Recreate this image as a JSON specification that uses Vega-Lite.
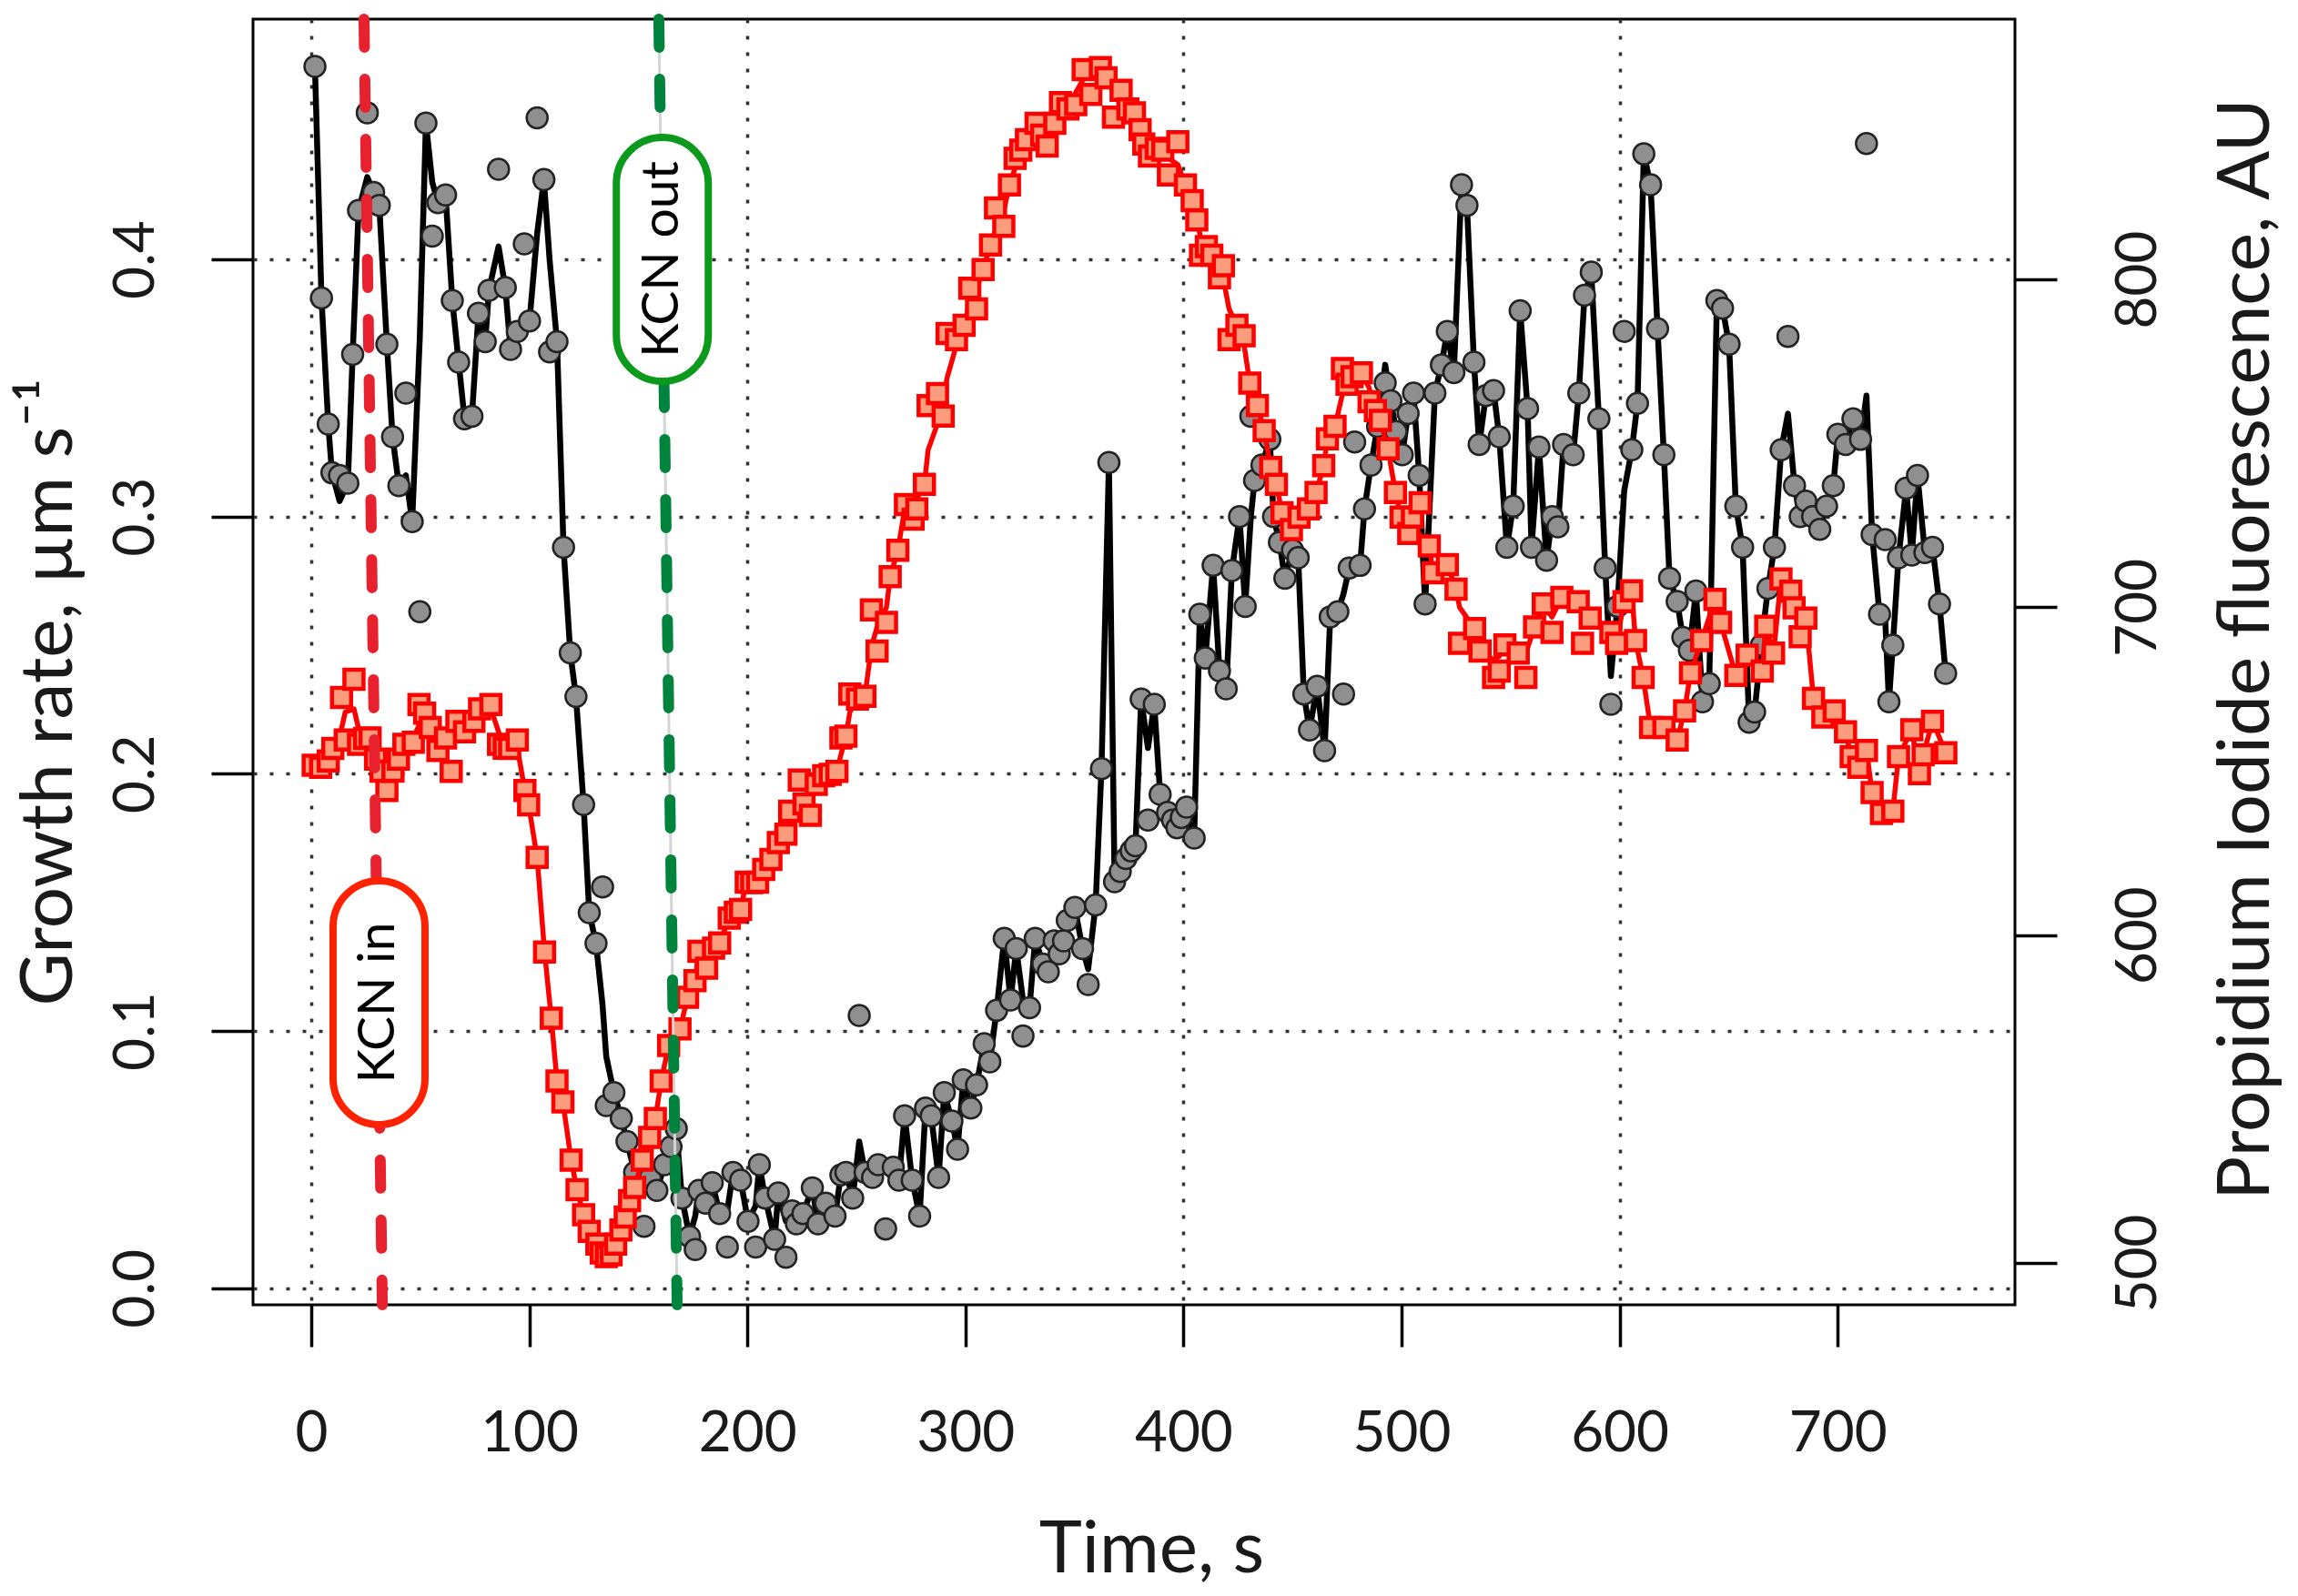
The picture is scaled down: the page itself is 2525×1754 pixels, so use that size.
{
  "$schema": "https://vega.github.io/schema/vega-lite/v6.json",
  "width": 1936,
  "height": 1413,
  "autosize": {"type": "none"},
  "padding": {"left": 278, "top": 21, "right": 311, "bottom": 320},
  "background": "#ffffff",
  "config": {
    "font": "Lato",
    "view": {"stroke": "#000000", "strokeWidth": 3},
    "axis": {
      "labelFont": "Lato", "labelFontSize": 62, "labelColor": "#1a1a1a",
      "labelFlush": false, "labelOverlap": false,
      "tickColor": "#000000", "tickWidth": 3.5, "tickSize": 46,
      "titleFont": "Lato", "titleFontSize": 80, "titleFontWeight": "normal", "titleColor": "#1a1a1a",
      "domain": false
    }
  },
  "datasets": {
    "growth": [
      {"t":1.7,"g":0.475,"gl":0.475},{"t":4.7,"g":0.385,"gl":0.385},{"t":7.8,"g":0.336,"gl":0.336},{"t":9.5,"g":0.317,"gl":0.317},
      {"t":13,"g":0.316,"gl":0.306},{"t":16.8,"g":0.313,"gl":0.313},{"t":19,"g":0.363,"gl":0.363},{"t":21.7,"g":0.419,"gl":0.419},
      {"t":25.7,"g":0.457,"gl":0.432},{"t":28.6,"g":0.426,"gl":0.426},{"t":31.2,"g":0.421,"gl":0.421},{"t":34.7,"g":0.367,"gl":0.367},
      {"t":37.3,"g":0.331,"gl":0.331},{"t":40.2,"g":0.312,"gl":0.312},{"t":43.4,"g":0.348,"gl":0.316},{"t":46.3,"g":0.298,"gl":0.298},
      {"t":49.8,"g":0.263,"gl":0.37},{"t":52.6,"g":0.453,"gl":0.453},{"t":55.5,"g":0.409,"gl":0.43},{"t":58.1,"g":0.422,"gl":0.422},
      {"t":61.6,"g":0.425,"gl":0.425},{"t":64.7,"g":0.384,"gl":0.384},{"t":67.6,"g":0.36,"gl":0.36},{"t":70.3,"g":0.338,"gl":0.338},
      {"t":73.7,"g":0.339,"gl":0.339},{"t":76.7,"g":0.379,"gl":0.379},{"t":79.8,"g":0.368,"gl":0.368},{"t":81.5,"g":0.388,"gl":0.388},
      {"t":85.9,"g":0.435,"gl":0.405},{"t":89,"g":0.389,"gl":0.389},{"t":91.4,"g":0.365,"gl":0.365},{"t":94.5,"g":0.372,"gl":0.372},
      {"t":97.7,"g":0.406,"gl":0.374},{"t":100.1,"g":0.376,"gl":0.376},{"t":103.6,"g":0.455,"gl":0.41},{"t":106.7,"g":0.431,"gl":0.431},
      {"t":109.3,"g":0.364,"gl":0.4},{"t":112.7,"g":0.368,"gl":0.368},{"t":115.7,"g":0.288,"gl":0.288},{"t":118.8,"g":0.247,"gl":0.247},
      {"t":121.4,"g":0.23,"gl":0.23},{"t":124.9,"g":0.188,"gl":0.188},{"t":127.5,"g":0.146,"gl":0.146},{"t":130.6,"g":0.134,"gl":0.134},
      {"t":133.6,"g":0.156,"gl":0.11},{"t":135.3,"g":0.071,"gl":0.09},{"t":138.8,"g":0.076,"gl":0.076},{"t":142.2,"g":0.066,"gl":0.066},
      {"t":144.8,"g":0.057,"gl":0.057},{"t":148.3,"g":0.045,"gl":0.045},{"t":152.6,"g":0.024,"gl":0.042},{"t":155.5,"g":0.043,"gl":0.043},
      {"t":158.5,"g":0.038,"gl":0.038},{"t":162,"g":0.048,"gl":0.048},{"t":165,"g":0.055,"gl":0.055},{"t":167.4,"g":0.062,"gl":0.062},
      {"t":170,"g":0.035,"gl":0.035},{"t":173.5,"g":0.02,"gl":0.02},{"t":176.1,"g":0.015,"gl":0.028},{"t":177.8,"g":0.038,"gl":0.038},
      {"t":180.8,"g":0.033,"gl":0.033},{"t":183.9,"g":0.041,"gl":0.041},{"t":187.3,"g":0.029,"gl":0.029},{"t":190.8,"g":0.016,"gl":0.03},
      {"t":193.4,"g":0.045,"gl":0.045},{"t":196.9,"g":0.042,"gl":0.042},{"t":200.3,"g":0.026,"gl":0.026},{"t":203.8,"g":0.016,"gl":0.032},
      {"t":205.5,"g":0.048,"gl":0.048},{"t":208.2,"g":0.035,"gl":0.035},{"t":212.5,"g":0.019,"gl":0.019},{"t":214.2,"g":0.037,"gl":0.037},
      {"t":217.7,"g":0.012,"gl":0.026},{"t":220.5,"g":0.03,"gl":0.03},{"t":222.5,"g":0.025,"gl":0.025},{"t":225.5,"g":0.029,"gl":0.029},
      {"t":229.8,"g":0.039,"gl":0.039},{"t":232.4,"g":0.025,"gl":0.025},{"t":235.9,"g":0.033,"gl":0.033},{"t":240.2,"g":0.028,"gl":0.028},
      {"t":242.9,"g":0.044,"gl":0.044},{"t":245.2,"g":0.045,"gl":0.045},{"t":248.3,"g":0.035,"gl":0.035},{"t":251.3,"g":0.106,"gl":0.057},
      {"t":254,"g":0.045,"gl":0.045},{"t":257.4,"g":0.043,"gl":0.043},{"t":260,"g":0.048,"gl":0.048},{"t":263.4,"g":0.023,"gl":0.045},
      {"t":266.9,"g":0.047,"gl":0.047},{"t":269.5,"g":0.042,"gl":0.042},{"t":272.1,"g":0.067,"gl":0.067},{"t":275.6,"g":0.042,"gl":0.042},
      {"t":279,"g":0.028,"gl":0.028},{"t":281.7,"g":0.07,"gl":0.07},{"t":284.3,"g":0.067,"gl":0.067},{"t":287.7,"g":0.043,"gl":0.043},
      {"t":290.3,"g":0.076,"gl":0.076},{"t":293.8,"g":0.065,"gl":0.065},{"t":296.4,"g":0.054,"gl":0.054},{"t":299,"g":0.081,"gl":0.081},
      {"t":302.5,"g":0.07,"gl":0.07},{"t":305.1,"g":0.079,"gl":0.079},{"t":308.6,"g":0.095,"gl":0.095},{"t":311.2,"g":0.088,"gl":0.088},
      {"t":314.3,"g":0.108,"gl":0.108},{"t":317.8,"g":0.136,"gl":0.136},{"t":320.7,"g":0.112,"gl":0.112},{"t":323.3,"g":0.132,"gl":0.132},
      {"t":326.4,"g":0.098,"gl":0.112},{"t":329.4,"g":0.109,"gl":0.109},{"t":332,"g":0.136,"gl":0.136},{"t":335.5,"g":0.126,"gl":0.126},
      {"t":338,"g":0.123,"gl":0.123},{"t":340.7,"g":0.135,"gl":0.135},{"t":343,"g":0.13,"gl":0.13},{"t":345,"g":0.135,"gl":0.135},
      {"t":346.7,"g":0.143,"gl":0.143},{"t":350.2,"g":0.148,"gl":0.148},{"t":353.7,"g":0.132,"gl":0.132},{"t":356.3,"g":0.118,"gl":0.124},
      {"t":359.7,"g":0.149,"gl":0.149},{"t":362.4,"g":0.202,"gl":0.202},{"t":365.8,"g":0.321,"gl":0.321},{"t":368.4,"g":0.158,"gl":0.158},
      {"t":371,"g":0.162,"gl":0.162},{"t":373.6,"g":0.167,"gl":0.167},{"t":376,"g":0.17,"gl":0.17},{"t":378,"g":0.172,"gl":0.172},
      {"t":380.6,"g":0.229,"gl":0.229},{"t":383.7,"g":0.182,"gl":0.21},{"t":386.6,"g":0.227,"gl":0.227},{"t":389.3,"g":0.192,"gl":0.192},
      {"t":392.7,"g":0.185,"gl":0.185},{"t":395,"g":0.182,"gl":0.182},{"t":397,"g":0.179,"gl":0.179},{"t":399,"g":0.183,"gl":0.183},
      {"t":401.4,"g":0.187,"gl":0.187},{"t":404.9,"g":0.175,"gl":0.175},{"t":407.5,"g":0.262,"gl":0.262},{"t":410,"g":0.245,"gl":0.245},
      {"t":413.6,"g":0.281,"gl":0.281},{"t":416.5,"g":0.24,"gl":0.24},{"t":419.6,"g":0.233,"gl":0.233},{"t":422.2,"g":0.279,"gl":0.279},
      {"t":425.7,"g":0.3,"gl":0.3},{"t":428.3,"g":0.265,"gl":0.265},{"t":430.9,"g":0.339,"gl":0.3},{"t":432.6,"g":0.314,"gl":0.314},
      {"t":436,"g":0.32,"gl":0.32},{"t":439.6,"g":0.33,"gl":0.33},{"t":441.3,"g":0.3,"gl":0.3},{"t":444,"g":0.29,"gl":0.29},
      {"t":446.5,"g":0.276,"gl":0.276},{"t":450,"g":0.287,"gl":0.287},{"t":452.6,"g":0.284,"gl":0.284},{"t":455.2,"g":0.231,"gl":0.231},
      {"t":457.8,"g":0.217,"gl":0.217},{"t":461.3,"g":0.234,"gl":0.234},{"t":464.7,"g":0.209,"gl":0.209},{"t":467.3,"g":0.261,"gl":0.261},
      {"t":470.8,"g":0.263,"gl":0.263},{"t":473.4,"g":0.231,"gl":0.27},{"t":476,"g":0.28,"gl":0.28},{"t":478.5,"g":0.329,"gl":0.28},
      {"t":481,"g":0.281,"gl":0.281},{"t":483,"g":0.303,"gl":0.303},{"t":486,"g":0.32,"gl":0.32},{"t":489,"g":0.335,"gl":0.335},
      {"t":492.5,"g":0.352,"gl":0.359},{"t":495.1,"g":0.345,"gl":0.345},{"t":497.5,"g":0.333,"gl":0.333},{"t":500.3,"g":0.324,"gl":0.324},
      {"t":503,"g":0.34,"gl":0.34},{"t":505.5,"g":0.348,"gl":0.348},{"t":508.1,"g":0.316,"gl":0.316},{"t":510.8,"g":0.266,"gl":0.266},
      {"t":515.3,"g":0.348,"gl":0.348},{"t":518.3,"g":0.359,"gl":0.359},{"t":521,"g":0.372,"gl":0.372},{"t":524,"g":0.356,"gl":0.356},
      {"t":527.5,"g":0.429,"gl":0.429},{"t":530,"g":0.421,"gl":0.421},{"t":533.2,"g":0.36,"gl":0.36},{"t":535.6,"g":0.328,"gl":0.328},
      {"t":538.7,"g":0.347,"gl":0.347},{"t":542.2,"g":0.349,"gl":0.349},{"t":544.8,"g":0.331,"gl":0.331},{"t":548.3,"g":0.288,"gl":0.288},
      {"t":551.2,"g":0.304,"gl":0.304},{"t":554.4,"g":0.38,"gl":0.38},{"t":557.8,"g":0.342,"gl":0.342},{"t":559.6,"g":0.288,"gl":0.288},
      {"t":563,"g":0.327,"gl":0.327},{"t":566.5,"g":0.283,"gl":0.283},{"t":569.1,"g":0.3,"gl":0.3},{"t":571.7,"g":0.296,"gl":0.296},
      {"t":574.3,"g":0.328,"gl":0.328},{"t":578.7,"g":0.324,"gl":0.324},{"t":581.3,"g":0.348,"gl":0.348},{"t":583.9,"g":0.386,"gl":0.386},
      {"t":587,"g":0.395,"gl":0.395},{"t":590.5,"g":0.338,"gl":0.338},{"t":593.4,"g":0.28,"gl":0.28},{"t":596,"g":0.227,"gl":0.238},
      {"t":599,"g":0.265,"gl":0.265},{"t":602.1,"g":0.372,"gl":0.31},{"t":605.6,"g":0.326,"gl":0.326},{"t":608.2,"g":0.344,"gl":0.344},
      {"t":611.1,"g":0.441,"gl":0.441},{"t":614.2,"g":0.429,"gl":0.429},{"t":617.4,"g":0.373,"gl":0.373},{"t":620.3,"g":0.324,"gl":0.324},
      {"t":622.9,"g":0.276,"gl":0.276},{"t":626.4,"g":0.267,"gl":0.267},{"t":629,"g":0.253,"gl":0.253},{"t":632,"g":0.248,"gl":0.248},
      {"t":635,"g":0.271,"gl":0.271},{"t":638,"g":0.228,"gl":0.228},{"t":641.1,"g":0.235,"gl":0.235},{"t":644.6,"g":0.384,"gl":0.384},
      {"t":647.2,"g":0.381,"gl":0.381},{"t":650.2,"g":0.367,"gl":0.367},{"t":653.3,"g":0.304,"gl":0.304},{"t":656.4,"g":0.288,"gl":0.288},
      {"t":659.4,"g":0.22,"gl":0.22},{"t":661.9,"g":0.224,"gl":0.224},{"t":665,"g":0.25,"gl":0.25},{"t":668,"g":0.272,"gl":0.272},
      {"t":671,"g":0.288,"gl":0.288},{"t":674.1,"g":0.326,"gl":0.326},{"t":677.2,"g":0.37,"gl":0.34},{"t":680.2,"g":0.312,"gl":0.312},
      {"t":682.8,"g":0.3,"gl":0.3},{"t":685.4,"g":0.306,"gl":0.306},{"t":688.5,"g":0.3,"gl":0.3},{"t":691.8,"g":0.295,"gl":0.295},
      {"t":694.9,"g":0.304,"gl":0.304},{"t":698,"g":0.312,"gl":0.312},{"t":700.1,"g":0.332,"gl":0.332},{"t":703.6,"g":0.328,"gl":0.328},
      {"t":707,"g":0.338,"gl":0.338},{"t":710.5,"g":0.33,"gl":0.33},{"t":713.2,"g":0.445,"gl":0.347},{"t":715.8,"g":0.293,"gl":0.293},
      {"t":719.2,"g":0.262,"gl":0.262},{"t":721.8,"g":0.291,"gl":0.26},{"t":723.5,"g":0.228,"gl":0.228},{"t":725.3,"g":0.25,"gl":0.25},
      {"t":727.9,"g":0.284,"gl":0.284},{"t":731.4,"g":0.311,"gl":0.311},{"t":734,"g":0.285,"gl":0.285},{"t":736.6,"g":0.316,"gl":0.316},
      {"t":740,"g":0.286,"gl":0.286},{"t":743.5,"g":0.288,"gl":0.288},{"t":746.7,"g":0.266,"gl":0.266},{"t":749.5,"g":0.239,"gl":0.239}
    ],
    "pi": [
      {"t":0.9,"f":651.8,"fl":651.8},{"t":4.3,"f":651.2,"fl":651.2},{"t":7.8,"f":653.1,"fl":653.1},{"t":9.9,"f":656.9,"fl":656.9},
      {"t":13.9,"f":672.5,"fl":663},{"t":15.6,"f":659.5,"fl":668},{"t":19.6,"f":678,"fl":669},{"t":21.7,"f":658.2,"fl":663},
      {"t":24.5,"f":660,"fl":660},{"t":27,"f":660.1,"fl":656},{"t":29.5,"f":653.7,"fl":653.7},{"t":32,"f":650,"fl":651},
      {"t":34.7,"f":644.1,"fl":649},{"t":37.5,"f":650,"fl":650},{"t":40,"f":653.7,"fl":653.7},{"t":42.5,"f":658.2,"fl":658.2},
      {"t":46.8,"f":658.8,"fl":660},{"t":49.4,"f":670.3,"fl":664},{"t":52,"f":667.7,"fl":666},{"t":54.6,"f":663.3,"fl":663.3},
      {"t":58.1,"f":656.3,"fl":660},{"t":61.6,"f":660.1,"fl":662},{"t":64.2,"f":649.9,"fl":662},{"t":66.8,"f":665.2,"fl":665.2},
      {"t":70.3,"f":662,"fl":664},{"t":74.6,"f":665.2,"fl":666},{"t":77.2,"f":669,"fl":668},{"t":82.4,"f":670.3,"fl":669},
      {"t":85.9,"f":658.2,"fl":662},{"t":88.5,"f":657,"fl":657},{"t":91,"f":656.9,"fl":656.9},{"t":94.5,"f":659.5,"fl":657},
      {"t":98,"f":644.1,"fl":644.1},{"t":99.7,"f":639.7,"fl":639.7},{"t":103.6,"f":623.7,"fl":623.7},{"t":107,"f":594.8,"fl":594.8},
      {"t":110.1,"f":574.6,"fl":574.6},{"t":112.7,"f":555.5,"fl":555.5},{"t":115.4,"f":549.1,"fl":549.1},{"t":119.2,"f":531.3,"fl":531.3},
      {"t":121.9,"f":522.3,"fl":522.3},{"t":124.9,"f":514.7,"fl":514.7},{"t":127.5,"f":509.6,"fl":509.6},{"t":131,"f":505.7,"fl":505.7},
      {"t":133,"f":503,"fl":503},{"t":135.3,"f":501.9,"fl":501.9},{"t":137.5,"f":502.5,"fl":502.5},{"t":139.6,"f":505.7,"fl":505.7},
      {"t":142,"f":510,"fl":510},{"t":144,"f":514,"fl":514},{"t":146,"f":519,"fl":519},{"t":148.3,"f":523,"fl":523},
      {"t":151.8,"f":531.3,"fl":531.3},{"t":155.2,"f":538.3,"fl":538.3},{"t":157.8,"f":544,"fl":544},{"t":160.5,"f":555.5,"fl":555.5},
      {"t":163.9,"f":566.3,"fl":566.3},{"t":169.1,"f":571.4,"fl":571.4},{"t":172.6,"f":581,"fl":581},{"t":176,"f":586.1,"fl":586.1},
      {"t":177.8,"f":595,"fl":595},{"t":181.3,"f":589.9,"fl":594},{"t":184.5,"f":596,"fl":596},{"t":187.3,"f":597.6,"fl":597.6},
      {"t":191.7,"f":605.2,"fl":605.2},{"t":194.5,"f":607,"fl":607},{"t":196.9,"f":607.8,"fl":607.8},{"t":199.5,"f":616.1,"fl":616.1},
      {"t":202,"f":616,"fl":616},{"t":204.7,"f":616.1,"fl":616.1},{"t":207.5,"f":620,"fl":620},{"t":210.8,"f":623.1,"fl":623.1},
      {"t":214.2,"f":628.2,"fl":628.2},{"t":217.7,"f":630.8,"fl":630.8},{"t":219.4,"f":637.8,"fl":637.8},{"t":223.8,"f":647.3,"fl":641},
      {"t":226,"f":640,"fl":640},{"t":228.9,"f":636.5,"fl":642},{"t":231.6,"f":646,"fl":646},{"t":235,"f":648.6,"fl":648.6},
      {"t":238,"f":649,"fl":649},{"t":241.1,"f":649.9,"fl":649.9},{"t":242.9,"f":660.1,"fl":655},{"t":245.2,"f":660.7,"fl":660.7},
      {"t":247,"f":673.5,"fl":668},{"t":250.5,"f":672,"fl":672},{"t":253.9,"f":672.8,"fl":672.8},{"t":256.9,"f":699.2,"fl":688},
      {"t":259.5,"f":686.6,"fl":694},{"t":263.8,"f":695.4,"fl":700},{"t":265.5,"f":709.3,"fl":709.3},{"t":269,"f":717.4,"fl":717.4},
      {"t":272.5,"f":731.3,"fl":731.3},{"t":276,"f":726.9,"fl":730},{"t":277.7,"f":730,"fl":733},{"t":281.2,"f":737.5,"fl":737.5},
      {"t":282.9,"f":761.5,"fl":748},{"t":287.2,"f":765.2,"fl":756},{"t":289.8,"f":758.3,"fl":763},{"t":291.6,"f":783.5,"fl":770},
      {"t":295.9,"f":781.6,"fl":780},{"t":299.4,"f":786,"fl":786},{"t":302,"f":797.3,"fl":793},{"t":305.1,"f":791,"fl":797},
      {"t":308.1,"f":803,"fl":803},{"t":311.5,"f":810.5,"fl":810.5},{"t":313.8,"f":821.8,"fl":815},{"t":317.6,"f":816.2,"fl":821},
      {"t":320.2,"f":828.8,"fl":828.8},{"t":322.8,"f":836.9,"fl":834},{"t":325.4,"f":839.4,"fl":839.4},{"t":328,"f":842.6,"fl":842.6},
      {"t":332.4,"f":847.6,"fl":847.6},{"t":335,"f":844,"fl":844},{"t":337.5,"f":840.7,"fl":846},{"t":341,"f":847.6,"fl":849},
      {"t":343.6,"f":853.9,"fl":853.9},{"t":347,"f":852,"fl":852},{"t":350.6,"f":853.3,"fl":857},{"t":354,"f":864,"fl":861},
      {"t":357.5,"f":856.4,"fl":862},{"t":361.9,"f":864.6,"fl":864.6},{"t":364.5,"f":861.5,"fl":861.5},{"t":367.9,"f":849.5,"fl":857},
      {"t":371.4,"f":857.7,"fl":854},{"t":374.5,"f":852,"fl":852},{"t":377.5,"f":850.8,"fl":850.8},{"t":380.1,"f":845.7,"fl":845.7},
      {"t":381.8,"f":841.3,"fl":841.3},{"t":384.4,"f":837.6,"fl":840},{"t":387.5,"f":840,"fl":840},{"t":390.5,"f":839.4,"fl":839.4},
      {"t":393.1,"f":831.9,"fl":837},{"t":397.4,"f":842,"fl":835},{"t":400.9,"f":828.8,"fl":828.8},{"t":404,"f":824,"fl":824},
      {"t":406.1,"f":818.1,"fl":818.1},{"t":407.8,"f":807.4,"fl":813},{"t":410.5,"f":810,"fl":810},{"t":413,"f":807.4,"fl":807.4},
      {"t":416.5,"f":800.5,"fl":800.5},{"t":418.3,"f":804.2,"fl":800},{"t":420.9,"f":781.6,"fl":791},{"t":424.5,"f":786,"fl":786},
      {"t":427.8,"f":782.8,"fl":780},{"t":430.4,"f":768.4,"fl":768.4},{"t":433.9,"f":761.5,"fl":761.5},{"t":437,"f":753.9,"fl":753.9},
      {"t":440,"f":742.6,"fl":742.6},{"t":442.6,"f":737.5,"fl":737.5},{"t":445.2,"f":728.8,"fl":728.8},{"t":449.5,"f":723.7,"fl":723.7},
      {"t":453,"f":727.5,"fl":727.5},{"t":457.3,"f":730,"fl":730},{"t":460.8,"f":735,"fl":735},{"t":464.3,"f":743.2,"fl":743.2},
      {"t":466,"f":751.4,"fl":751.4},{"t":469.5,"f":755.2,"fl":755.2},{"t":472.9,"f":772.8,"fl":765},{"t":475,"f":768,"fl":768},
      {"t":477.3,"f":770.3,"fl":770.3},{"t":481.6,"f":771.5,"fl":771.5},{"t":485.1,"f":762.7,"fl":767},{"t":488,"f":760,"fl":760},
      {"t":490.3,"f":757,"fl":757},{"t":493.8,"f":748.3,"fl":748.3},{"t":497.2,"f":735,"fl":735},{"t":499.8,"f":727.5,"fl":727.5},
      {"t":503.3,"f":722.5,"fl":726},{"t":505,"f":727.5,"fl":725},{"t":508.5,"f":731.9,"fl":722},{"t":512.7,"f":718.7,"fl":718.7},
      {"t":514.4,"f":710.5,"fl":710.5},{"t":521,"f":713,"fl":713},{"t":525,"f":705.5,"fl":705.5},{"t":526.6,"f":689,"fl":700},
      {"t":533.5,"f":693.5,"fl":693.5},{"t":536,"f":686.6,"fl":686.6},{"t":542.2,"f":678.6,"fl":684},{"t":544.8,"f":680.5,"fl":685},
      {"t":547.4,"f":688.5,"fl":688.5},{"t":553.5,"f":686,"fl":686},{"t":557,"f":678.6,"fl":686},{"t":561,"f":694,"fl":694},
      {"t":565,"f":701,"fl":701},{"t":569,"f":692.3,"fl":697},{"t":573.5,"f":703,"fl":703},{"t":581,"f":701.7,"fl":701.7},
      {"t":583,"f":689,"fl":698},{"t":586.5,"f":696.7,"fl":696.7},{"t":596,"f":692.3,"fl":692.3},{"t":598.6,"f":689,"fl":689},
      {"t":602,"f":701.7,"fl":701.7},{"t":605.5,"f":705,"fl":705},{"t":607.3,"f":689.8,"fl":689.8},{"t":610.8,"f":678.6,"fl":678.6},
      {"t":614.2,"f":663.3,"fl":663.3},{"t":620.3,"f":663.3,"fl":663.3},{"t":626.4,"f":659.5,"fl":659.5},{"t":629.8,"f":668.4,"fl":668.4},
      {"t":632.5,"f":680,"fl":680},{"t":637.6,"f":689.8,"fl":689.8},{"t":643.7,"f":702.4,"fl":702.4},{"t":646.3,"f":695.4,"fl":695.4},
      {"t":653.3,"f":679.2,"fl":679.2},{"t":658.5,"f":685.4,"fl":685.4},{"t":665.4,"f":680.5,"fl":680.5},{"t":667,"f":694.2,"fl":694.2},
      {"t":670.6,"f":686,"fl":686},{"t":674,"f":708.6,"fl":708.6},{"t":678.5,"f":704.9,"fl":704.9},{"t":680,"f":699.8,"fl":699.8},
      {"t":682.8,"f":691,"fl":691},{"t":685.4,"f":696.7,"fl":696.7},{"t":688.9,"f":672.2,"fl":672.2},{"t":693.2,"f":666.5,"fl":666.5},
      {"t":698.4,"f":668.4,"fl":668.4},{"t":703.6,"f":662,"fl":662},{"t":706.2,"f":654.4,"fl":654.4},{"t":709.7,"f":651.2,"fl":651.2},
      {"t":713.2,"f":656.3,"fl":656.3},{"t":715.8,"f":643.5,"fl":643.5},{"t":720.1,"f":637.1,"fl":637.1},{"t":725.3,"f":637.8,"fl":637.8},
      {"t":727.9,"f":654.4,"fl":654.4},{"t":734,"f":662.6,"fl":662.6},{"t":737.5,"f":649.2,"fl":649.2},{"t":739.2,"f":655,"fl":655},
      {"t":743.5,"f":665.2,"fl":665.2},{"t":749.6,"f":655.6,"fl":655.6}
    ],
    "events": [
      {"label": "KCN in", "t": 31.1, "g": 0.111, "t0": 24.2, "t1": 32.6},
      {"label": "KCN out", "t": 161.0, "g": 0.4, "t0": 159.4, "t1": 167.8}
    ]
  },
  "layer": [
    {
      "data": {"name": "growth"},
      "layer": [
        {
          "mark": {"type": "line", "color": "#000000", "strokeWidth": 6.5, "strokeJoin": "round"},
          "encoding": {
            "x": {
              "field": "t", "type": "quantitative",
              "scale": {"domain": [-26.7, 781.3], "nice": false, "zero": false},
              "axis": {
                "orient": "bottom", "values": [0, 100, 200, 300, 400, 500, 600, 700], "grid": false,
                "labelAngle": 0, "labelBaseline": "top", "labelPadding": 65,
                "title": "Time, s", "titleX": 987, "titleY": 293, "titleAlign": "center", "titleBaseline": "alphabetic"
              }
            },
            "y": {
              "field": "gl", "type": "quantitative",
              "scale": {"domain": [-0.0065, 0.4934], "nice": false, "zero": false},
              "axis": {
                "orient": "left", "values": [0, 0.1, 0.2, 0.3, 0.4], "format": ".1f",
                "grid": true, "gridDash": [4, 14], "gridColor": "#333333", "gridWidth": 3.5,
                "labelAngle": 270, "labelAlign": "center", "labelBaseline": "alphabetic", "labelPadding": 64,
                "title": "Growth rate, µm s⁻¹", "titleAngle": 270, "titleX": -200, "titleY": 739,
                "titleAlign": "center", "titleBaseline": "alphabetic"
              }
            }
          }
        },
        {
          "mark": {"type": "point", "shape": "circle", "filled": true, "fill": "#8f8f8f", "stroke": "#222222", "strokeWidth": 2.5, "size": 530, "opacity": 1},
          "encoding": {
            "x": {"field": "t", "type": "quantitative", "scale": {"domain": [-26.7, 781.3], "nice": false, "zero": false}},
            "y": {"field": "g", "type": "quantitative", "scale": {"domain": [-0.0065, 0.4934], "nice": false, "zero": false}}
          }
        }
      ]
    },
    {
      "data": {"name": "pi"},
      "layer": [
        {
          "mark": {"type": "line", "color": "#ff0000", "strokeWidth": 5.5, "strokeJoin": "round"},
          "encoding": {
            "x": {
              "field": "t", "type": "quantitative",
              "scale": {"domain": [-26.7, 781.3], "nice": false, "zero": false},
              "axis": {
                "orient": "bottom", "values": [0, 200, 400, 600], "grid": true,
                "gridDash": [4, 14], "gridColor": "#333333", "gridWidth": 3.5,
                "ticks": false, "labels": false, "title": null
              }
            },
            "y": {
              "field": "fl", "type": "quantitative",
              "scale": {"domain": [487.2, 879.4], "nice": false, "zero": false},
              "axis": {
                "orient": "right", "values": [500, 600, 700, 800], "grid": false,
                "labelAngle": 270, "labelAlign": "center", "labelBaseline": "top", "labelPadding": 59,
                "title": "Propidium Iodide fluorescence, AU", "titleAngle": 270, "titleX": 278, "titleY": 692,
                "titleAlign": "center", "titleBaseline": "alphabetic"
              }
            }
          }
        },
        {
          "mark": {"type": "point", "shape": "square", "filled": true, "fill": "#fb9c7c", "stroke": "#ff0000", "strokeWidth": 4.5, "size": 441, "opacity": 1},
          "encoding": {
            "x": {"field": "t", "type": "quantitative", "scale": {"domain": [-26.7, 781.3], "nice": false, "zero": false}},
            "y": {"field": "f", "type": "quantitative", "scale": {"domain": [487.2, 879.4], "nice": false, "zero": false}}
          }
        }
      ]
    },
    {
      "data": {"name": "events"},
      "encoding": {
        "x": {"field": "t0", "type": "quantitative", "scale": {"domain": [-26.7, 781.3], "nice": false, "zero": false}, "axis": null}
      },
      "layer": [
        {
          "transform": [{"filter": {"field": "label", "equal": "KCN out"}}],
          "mark": {"type": "rule", "color": "#d4d4d4", "strokeWidth": 3},
          "encoding": {
            "x2": {"field": "t1"},
            "y": {"datum": 0.4934, "type": "quantitative", "scale": {"domain": [-0.0065, 0.4934], "nice": false, "zero": false}, "axis": null},
            "y2": {"datum": -0.0065}
          }
        },
        {
          "mark": {"type": "rule", "strokeWidth": 12, "strokeDash": [31, 35], "strokeCap": "round"},
          "encoding": {
            "x2": {"field": "t1"},
            "y": {"datum": 0.4934, "type": "quantitative", "scale": {"domain": [-0.0065, 0.4934], "nice": false, "zero": false}, "axis": null},
            "y2": {"datum": -0.0065},
            "color": {"field": "label", "type": "nominal", "scale": {"domain": ["KCN in", "KCN out"], "range": ["#e8212f", "#00843d"]}, "legend": null}
          }
        },
        {
          "mark": {
            "type": "point",
            "shape": "M -0.377 -0.623 A 0.377 0.377 0 0 1 0.377 -0.623 L 0.377 0.623 A 0.377 0.377 0 0 1 -0.377 0.623 Z",
            "filled": true, "fill": "#ffffff", "strokeWidth": 8, "size": 71824, "opacity": 1
          },
          "encoding": {
            "x": {"field": "t", "type": "quantitative", "scale": {"domain": [-26.7, 781.3], "nice": false, "zero": false}, "axis": null},
            "y": {"field": "g", "type": "quantitative", "scale": {"domain": [-0.0065, 0.4934], "nice": false, "zero": false}, "axis": null},
            "stroke": {"field": "label", "type": "nominal", "scale": {"domain": ["KCN in", "KCN out"], "range": ["#ff2200", "#0c9a1c"]}, "legend": null}
          }
        },
        {
          "mark": {"type": "text", "angle": 270, "fontSize": 57, "font": "Lato", "align": "center", "baseline": "middle", "color": "#000000"},
          "encoding": {
            "x": {"field": "t", "type": "quantitative", "scale": {"domain": [-26.7, 781.3], "nice": false, "zero": false}, "axis": null},
            "y": {"field": "g", "type": "quantitative", "scale": {"domain": [-0.0065, 0.4934], "nice": false, "zero": false}, "axis": null},
            "text": {"field": "label"}
          }
        }
      ]
    }
  ],
  "resolve": {"scale": {"y": "independent"}, "axis": {"x": "independent", "y": "independent"}}
}
